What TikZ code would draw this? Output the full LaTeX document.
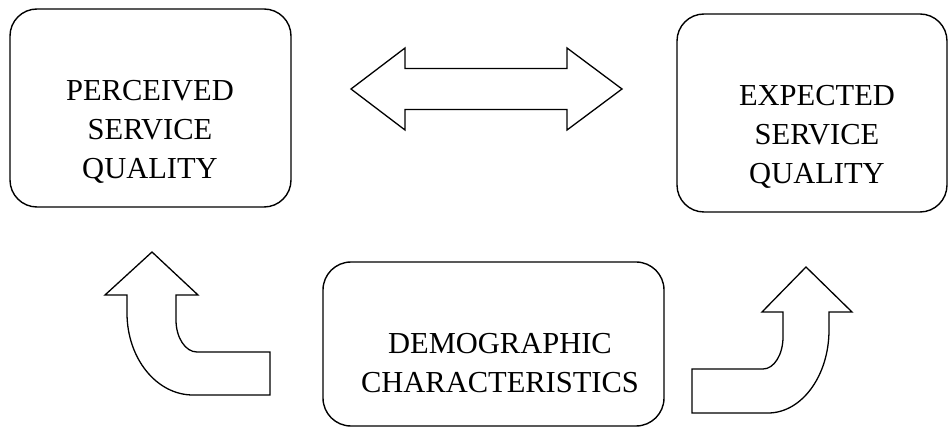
\documentclass[tikz,border=0pt]{standalone}
\usepackage{fontspec}
\setmainfont{Liberation Serif}
\usetikzlibrary{positioning}
\tikzset{
  qbox/.style={draw, line width=0.7pt, rounded corners=13.5pt, inner sep=0pt},
  qtext/.style={align=center, anchor=north, inner sep=0pt, font=\fontsize{15.25}{19.5}\selectfont},
  blockarrow/.style={draw, line width=0.65pt, line join=miter, fill=white}
}
\begin{document}
\begin{tikzpicture}[x=0.5pt,y=-0.5pt]
  \useasboundingbox (0,0) rectangle (948,427);
  % boxes
  \node [qbox, minimum width=140.5pt, minimum height=99pt] (perc) at (150.5,108) {};
  \node [qbox, minimum width=135pt, minimum height=99pt] (expt) at (812,113) {};
  \node [qbox, minimum width=170.5pt, minimum height=82pt, rounded corners=14pt] (demo) at (493.5,344) {};
  \node [qtext] (perctxt) at (150,80) {PERCEIVED\\SERVICE\\QUALITY};
  \node [qtext] (expttxt) at (817,85) {EXPECTED\\SERVICE\\QUALITY};
  \node [qtext] (demotxt) at (500,333) {DEMOGRAPHIC\\CHARACTERISTICS};
  % double arrow between the top boxes
  \draw [blockarrow] (351,89) -- (405,48) -- (405,68.5) -- (567,68.5) -- (567,48)
        -- (622,89) -- (567,130) -- (567,109.5) -- (405,109.5) -- (405,130) -- cycle;
  % bent arrow, left
  \draw [blockarrow] (152,252) -- (198,295) -- (176,295) -- (176,320)
        .. controls (176,337.7) and (185.4,352) .. (197,352)
        -- (270,352) -- (270,395) -- (193,395)
        .. controls (156.5,395) and (127,358.3) .. (127,313)
        -- (127,295) -- (105,295) -- cycle;
  % bent arrow, right
  \draw [blockarrow] (806,267) -- (852,312) -- (829,312) -- (829,330)
        .. controls (829,375.8) and (801.7,413) .. (768,413)
        -- (692,413) -- (692,369) -- (763,369)
        .. controls (774,369) and (783,354.7) .. (783,337)
        -- (783,312) -- (762,312) -- cycle;
\end{tikzpicture}
\end{document}
